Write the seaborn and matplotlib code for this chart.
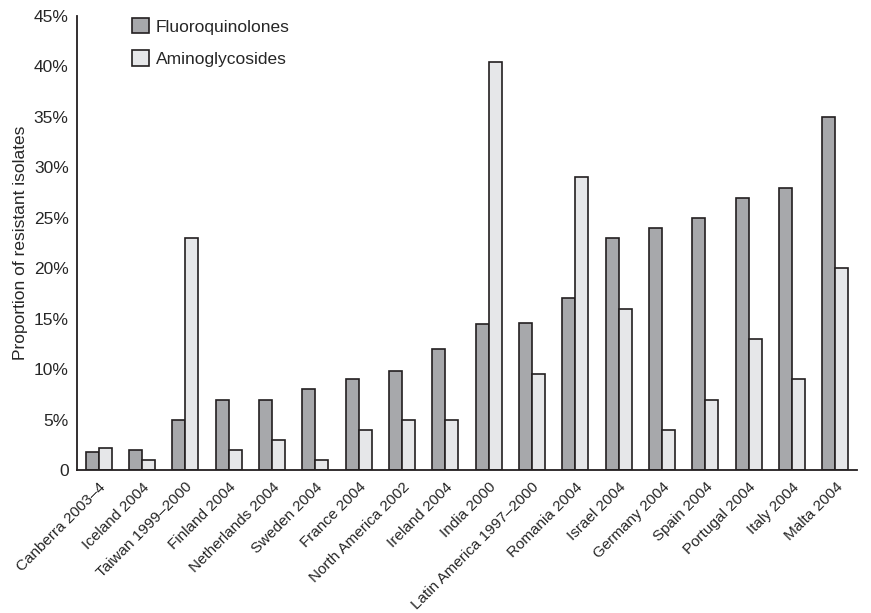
import matplotlib
matplotlib.use('Agg')
import matplotlib.pyplot as plt
import pandas as pd
import seaborn as sns

# Data
countries = ['Canberra 2003\u20134', 'Iceland 2004', 'Taiwan 1999\u20132000', 'Finland 2004',
             'Netherlands 2004', 'Sweden 2004', 'France 2004', 'North America 2002',
             'Ireland 2004', 'India 2000', 'Latin America 1997\u20132000', 'Romania 2004',
             'Israel 2004', 'Germany 2004', 'Spain 2004', 'Portugal 2004', 'Italy 2004',
             'Malta 2004']
fluoroquinolones = [1.8, 2.0, 5.0, 7.0, 7.0, 8.0, 9.0, 9.8, 12.0, 14.5, 14.6, 17.1,
                    23.0, 24.0, 25.0, 27.0, 28.0, 35.0]
aminoglycosides = [2.2, 1.0, 23.0, 2.0, 3.0, 1.0, 4.0, 5.0, 5.0, 40.4, 9.5, 29.0,
                   16.0, 4.0, 7.0, 13.0, 9.0, 20.0]
yticks = [0, 5, 10, 15, 20, 25, 30, 35, 40, 45]
ytick_labels = ['0'] + [f'{v}%' for v in yticks[1:]]

df = pd.DataFrame({
    'country': countries * 2,
    'value': fluoroquinolones + aminoglycosides,
    'drug': ['Fluoroquinolones'] * len(countries) + ['Aminoglycosides'] * len(countries),
})

sns.set_style('white')
plt.rcParams['font.family'] = ['Liberation Sans', 'DejaVu Sans']
plt.rcParams['font.size'] = 11.5

fig = plt.figure(figsize=(8.71, 6.13), dpi=100)
ax = fig.add_axes([0.0884, 0.233, 0.8956, 0.741])

sns.barplot(data=df, x='country', y='value', hue='drug', order=countries,
            palette=['#a7a8ab', '#e6e7e9'], width=0.6, edgecolor='#231f20',
            linewidth=1.2, saturation=1, ax=ax)

ax.set_xlim(-0.5, len(countries) - 0.5)
ax.set_ylim(0, 45)
ax.set_yticks(yticks)
ax.set_yticklabels(ytick_labels, fontsize=12.5)
ax.tick_params(axis='y', direction='in', length=7, width=1.2, color='#231f20', pad=6)

# category labels at centres, small upward ticks at group boundaries
ax.set_xticks(range(len(countries)))
ax.set_xticklabels(countries, rotation=45, ha='right', rotation_mode='anchor', fontsize=11)
ax.tick_params(axis='x', which='major', length=0, pad=7)
ax.set_xticks([i + 0.5 for i in range(len(countries))], minor=True)
ax.tick_params(axis='x', which='minor', direction='in', length=5, width=1.2, color='#231f20')

ax.set_xlabel('')
ax.set_ylabel('Proportion of resistant isolates', fontsize=12.5, labelpad=4)

for side in ['top', 'right']:
    ax.spines[side].set_visible(False)
for side in ['left', 'bottom']:
    ax.spines[side].set_color('#231f20')
    ax.spines[side].set_linewidth(1.3)

ax.legend(title=None, frameon=False, loc='upper left', bbox_to_anchor=(0.05, 1.03),
          handlelength=1.0, handleheight=1.0, labelspacing=0.9, handletextpad=0.4,
          fontsize=12.5)

fig.savefig('out.png', dpi=100)
